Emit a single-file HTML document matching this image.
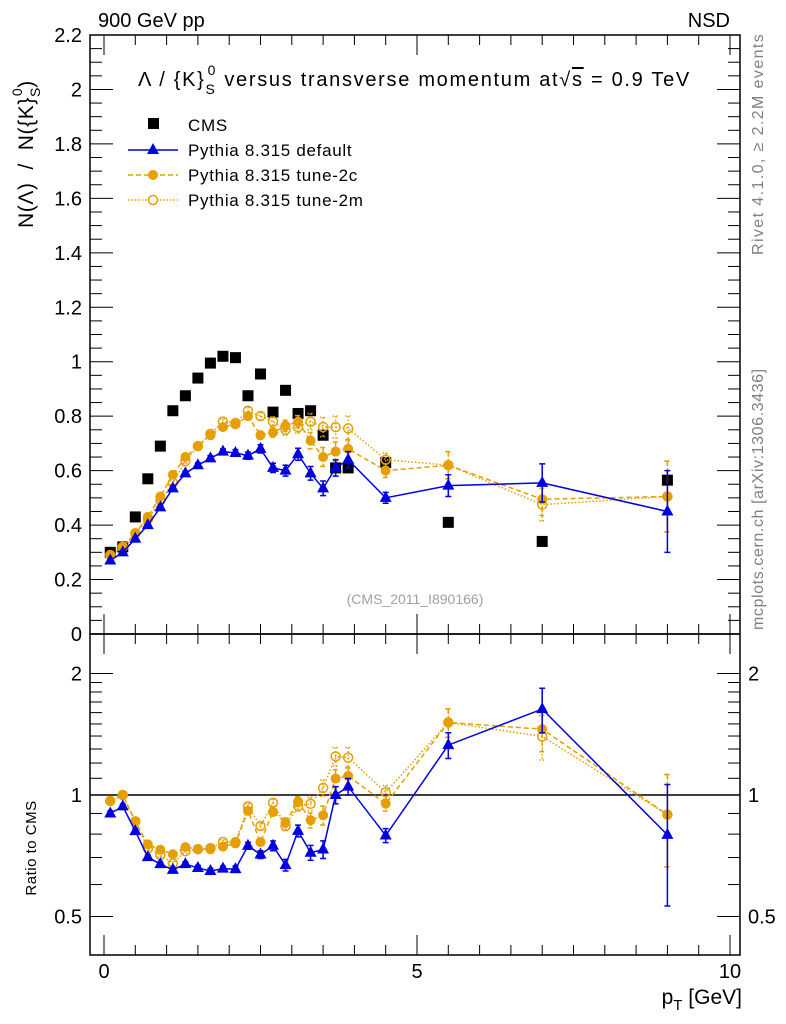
<!DOCTYPE html>
<html><head><meta charset="utf-8">
<style>
html,body{margin:0;padding:0;background:#fff;}
svg{display:block;font-family:"Liberation Sans",Arial,sans-serif;}
</style></head>
<body>
<svg id="chart" width="786" height="1024" viewBox="0 0 786 1024" xmlns="http://www.w3.org/2000/svg">
<g id="static">
<text x="98" y="27" font-size="20">900 GeV pp</text>
<text x="730" y="27" font-size="20" text-anchor="end">NSD</text>
<text transform="translate(763,255) rotate(-90)" font-size="16" letter-spacing="1.4" fill="#808080">Rivet 4.1.0, ≥ 2.2M events</text>
<text transform="translate(763,630) rotate(-90)" font-size="16" letter-spacing="0.6" fill="#808080">mcplots.cern.ch [arXiv:1306.3436]</text>
<text x="138" y="86" font-size="20" letter-spacing="1.7" style="white-space:pre">Λ / {K}<tspan dy="8" font-size="14">S</tspan><tspan dy="-19" dx="-9" font-size="14">0</tspan><tspan dy="11"> versus transverse momentum at</tspan><tspan>√</tspan><tspan text-decoration="overline">s</tspan><tspan> = 0.9 TeV</tspan></text>
<text transform="translate(33,228) rotate(-90)" font-size="21" letter-spacing="0.6" style="white-space:pre">N(Λ)  /  N({K}<tspan dy="7" font-size="14">S</tspan><tspan dy="-18" dx="-9" font-size="14">0</tspan><tspan dy="11">)</tspan></text>
<text transform="translate(36,848) rotate(-90)" font-size="15" text-anchor="middle" letter-spacing="0.5">Ratio to CMS</text>
<text x="742" y="1004" font-size="21" text-anchor="end">p<tspan dy="6" font-size="15">T</tspan><tspan dy="-6"> [GeV]</tspan></text>
<text x="415" y="604" font-size="14" fill="#a0a0a0" text-anchor="middle">(CMS_2011_I890166)</text>
<g>
<rect x="148" y="118" width="11" height="11" fill="#000"/>
<text x="188" y="131" font-size="17" letter-spacing="0.7">CMS</text>
<line x1="128" y1="150" x2="178" y2="150" stroke="#0000e0" stroke-width="1.5"/>
<polygon points="153,143 159,154 147,154" fill="#0000e0"/>
<text x="188" y="156" font-size="17" letter-spacing="0.7">Pythia 8.315 default</text>
<line x1="128" y1="175" x2="178" y2="175" stroke="#e69f00" stroke-width="1.5" stroke-dasharray="5,3"/>
<circle cx="153" cy="175" r="5" fill="#e69f00"/>
<text x="188" y="181" font-size="17" letter-spacing="0.7">Pythia 8.315 tune-2c</text>
<line x1="128" y1="200" x2="178" y2="200" stroke="#e69f00" stroke-width="1.5" stroke-dasharray="1.5,2"/>
<circle cx="153" cy="200" r="4.5" fill="#fff" stroke="#e69f00" stroke-width="1.5"/>
<text x="188" y="206" font-size="17" letter-spacing="0.7">Pythia 8.315 tune-2m</text>
</g>
</g>
<g id="dyn"></g>
</svg>
<script>
const pt = [0.1,0.3,0.5,0.7,0.9,1.1,1.3,1.5,1.7,1.9,2.1,2.3,2.5,2.7,2.9,3.1,3.3,3.5,3.7,3.9,4.5,5.5,7.0,9.0];
const cms = [0.30,0.32,0.43,0.57,0.69,0.82,0.875,0.94,0.995,1.02,1.015,0.875,0.955,0.815,0.895,0.81,0.82,0.73,0.61,0.61,0.63,0.41,0.34,0.565];
const pyDefault = [0.27,0.30,0.35,0.40,0.465,0.535,0.59,0.62,0.645,0.67,0.665,0.655,0.68,0.61,0.60,0.66,0.59,0.535,0.61,0.64,0.50,0.545,0.555,0.45];
const pyDefaultErr = [0.004,0.004,0.005,0.005,0.006,0.007,0.008,0.009,0.01,0.01,0.012,0.013,0.015,0.017,0.02,0.022,0.025,0.027,0.03,0.03,0.02,0.04,0.07,0.15];
const py2c = [0.29,0.32,0.37,0.43,0.505,0.585,0.65,0.69,0.73,0.76,0.77,0.80,0.73,0.74,0.765,0.78,0.71,0.65,0.67,0.68,0.60,0.62,0.495,0.505];
const py2cErr = [0.004,0.004,0.005,0.005,0.006,0.007,0.008,0.009,0.01,0.01,0.012,0.013,0.015,0.017,0.02,0.022,0.03,0.035,0.035,0.035,0.025,0.05,0.06,0.13];
const py2m = [0.29,0.32,0.37,0.42,0.49,0.555,0.635,0.69,0.735,0.78,0.775,0.82,0.80,0.78,0.75,0.76,0.78,0.76,0.76,0.755,0.64,0.62,0.475,0.505];
const py2mErr = [0.004,0.004,0.005,0.005,0.006,0.007,0.008,0.009,0.01,0.01,0.012,0.013,0.015,0.017,0.02,0.022,0.03,0.035,0.04,0.045,0.025,0.05,0.06,0.13];
const mainTicks = [0,0.2,0.4,0.6,0.8,1,1.2,1.4,1.6,1.8,2,2.2];
const mainTickLabels = ["0","0.2","0.4","0.6","0.8","1","1.2","1.4","1.6","1.8","2","2.2"];
const ratioTicks = [0.5,1,2];
const ratioTickLabels = ["0.5","1","2"];
const xTicks = [0,5,10];
const xTickLabels = ["0","5","10"];

const NS="http://www.w3.org/2000/svg";
const L=90,R=740,T=35,MB=634,RB=955;
const X=v=>104+v*62.6;
const Y=v=>MB-v*(MB-T)/2.2;
const RY=r=>795-Math.log2(r)*121.5;
const g=document.getElementById('dyn');
function mk(tag,at,parent){const e=document.createElementNS(NS,tag);for(const k in at)e.setAttribute(k,at[k]);(parent||g).appendChild(e);return e;}

let f1=mk('rect',{x:L,y:T,width:R-L,height:MB-T,fill:'none',stroke:'#000','stroke-width':1.5});


let f2=mk('rect',{x:L,y:MB,width:R-L,height:RB-MB,fill:'none',stroke:'#000','stroke-width':1.5});



for(let v=0;v<=2.2001;v+=0.05){
  const y=Y(v);const maj=Math.abs(v/0.2-Math.round(v/0.2))<1e-6;
  const len=maj?23:12;
  mk('line',{x1:L,y1:y,x2:L+len,y2:y,stroke:'#000','stroke-width':1});
  mk('line',{x1:R,y1:y,x2:R-len,y2:y,stroke:'#000','stroke-width':1});
}
mainTicks.forEach((v,i)=>{
  const t=mk('text',{x:L-8,y:Y(v)+7,'font-size':20,'text-anchor':'end'});
  t.textContent=mainTickLabels[i];
  
  
});
for(let v=0;v<=10.001;v+=0.5){
  if(X(v)>R)continue;
  const maj=Math.abs(v-Math.round(v/5)*5)<1e-6;
  const len=maj?20:10;
  mk('line',{x1:X(v),y1:T,x2:X(v),y2:T+len,stroke:'#000','stroke-width':1});
  mk('line',{x1:X(v),y1:MB,x2:X(v),y2:MB-len,stroke:'#000','stroke-width':1});
  mk('line',{x1:X(v),y1:MB,x2:X(v),y2:MB+len,stroke:'#000','stroke-width':1});
  mk('line',{x1:X(v),y1:RB,x2:X(v),y2:RB-len,stroke:'#000','stroke-width':1});
}
xTicks.forEach((v,i)=>{
  const t=mk('text',{x:X(v),y:978,'font-size':20,'text-anchor':'middle'});
  t.textContent=xTickLabels[i];
  
  
});
const rminor=[0.5,0.6,0.7,0.8,0.9,1,1.1,1.2,1.3,1.4,1.5,1.6,1.7,1.8,1.9,2];
rminor.forEach(v=>{
  const maj=ratioTicks.includes(v);const len=maj?23:12;
  mk('line',{x1:L,y1:RY(v),x2:L+len,y2:RY(v),stroke:'#000','stroke-width':1});
  mk('line',{x1:R,y1:RY(v),x2:R-len,y2:RY(v),stroke:'#000','stroke-width':1});
});
ratioTicks.forEach((v,i)=>{
  const t=mk('text',{x:L-8,y:RY(v)+7,'font-size':20,'text-anchor':'end'});
  t.textContent=ratioTickLabels[i];
  
  
  const t2=mk('text',{x:R+8,y:RY(v)+7,'font-size':20,'text-anchor':'start'});
  t2.textContent=ratioTickLabels[i];
  
  
});
let one=mk('line',{x1:L,y1:RY(1),x2:R,y2:RY(1),stroke:'#000','stroke-width':1.5});



function series(vals,errs,color,dash,marker,name,ratio){
  const yf=ratio?(i,v)=>RY(v/cms[i]):(i,v)=>Y(v);
  const pts=vals.map((v,i)=>X(pt[i])+','+yf(i,v)).join(' ');
  const pl=mk('polyline',{points:pts,fill:'none',stroke:color,'stroke-width':1.5});
  if(dash)pl.setAttribute('stroke-dasharray',dash);
  
  
  vals.forEach((v,i)=>{
    const x=X(pt[i]);const y=yf(i,v);
    const y1=yf(i,v+errs[i]),y2=yf(i,Math.max(v-errs[i],0.01));
    const eb=mk('path',{d:`M${x},${y1}V${y2}M${x-3},${y1}H${x+3}M${x-3},${y2}H${x+3}`,stroke:color,'stroke-width':1.5,fill:'none'});
    if(dash)eb.setAttribute('stroke-dasharray',dash);
    
    
    let m;
    if(marker==='tri')m=mk('polygon',{points:`${x},${y-7} ${x+6},${y+4} ${x-6},${y+4}`,fill:color});
    else if(marker==='dot')m=mk('circle',{cx:x,cy:y,r:5,fill:color});
    else m=mk('circle',{cx:x,cy:y,r:4.5,fill:'none',stroke:color,'stroke-width':1.5});
    
    
  });
}
cms.forEach((v,i)=>{
  const r=mk('rect',{x:X(pt[i])-5.5,y:Y(v)-5.5,width:11,height:11,fill:'#000'});
  
  
});
series(py2m,py2mErr,'#e69f00','1.5,2','open','tune-2m',false);
series(py2c,py2cErr,'#e69f00','5,3','dot','tune-2c',false);
series(pyDefault,pyDefaultErr,'#0000e0',null,'tri','default',false);
series(py2m,py2mErr,'#e69f00','1.5,2','open','ratio-tune-2m',true);
series(py2c,py2cErr,'#e69f00','5,3','dot','ratio-tune-2c',true);
series(pyDefault,pyDefaultErr,'#0000e0',null,'tri','ratio-default',true);
</script>
</body></html>
